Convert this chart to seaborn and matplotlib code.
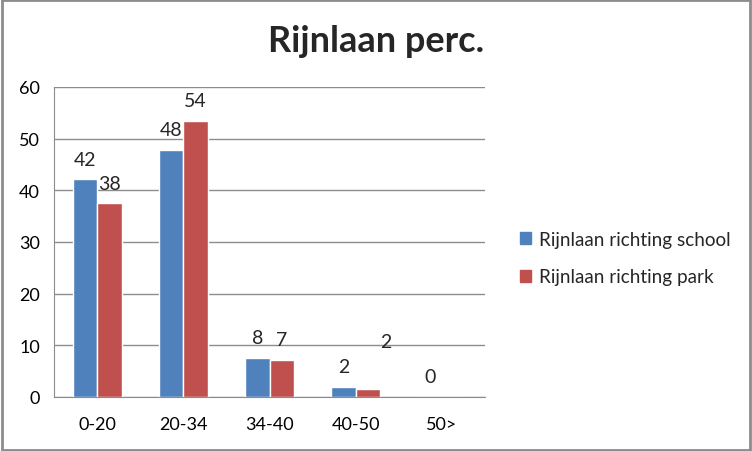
import pandas as pd
import matplotlib.pyplot as plt
import seaborn as sns

# Data
CATEGORIES = ['0-20', '20-34', '34-40', '40-50', '50>']
SCHOOL = [42.1, 47.9, 7.6, 2.0, 0.0]
PARK = [37.5, 53.5, 7.2, 1.5, 0.0]
SERIES = ['Rijnlaan richting school', 'Rijnlaan richting park']
COLORS = ['#4F81BD', '#C0504D']

df = pd.DataFrame({
    'category': CATEGORIES * 2,
    'value': SCHOOL + PARK,
    'series': [SERIES[0]] * len(CATEGORIES) + [SERIES[1]] * len(CATEGORIES),
})

sns.set_style('white')
plt.rcParams['font.family'] = ['Lato', 'DejaVu Sans']

fig = plt.figure(figsize=(7.52, 4.52), dpi=100)
ax = fig.add_axes([54 / 752, 54 / 452, 431 / 752, 310 / 452])

sns.barplot(data=df, x='category', y='value', hue='series', palette=COLORS,
            width=0.57, saturation=1, ax=ax, legend=True)

ax.set_ylim(0, 60)
ax.set_yticks(range(0, 61, 10))
ax.set_xlabel('')
ax.set_ylabel('')
ax.yaxis.grid(True, color='#8c8c8c', linewidth=1)
ax.set_axisbelow(True)
for side in ['top', 'right']:
    ax.spines[side].set_visible(False)
for side in ['left', 'bottom']:
    ax.spines[side].set_color('#8c8c8c')
ax.tick_params(axis='both', length=0, labelsize=13, colors='black')
ax.tick_params(axis='x', pad=14)
ax.tick_params(axis='y', pad=10)

# Data labels (Excel style, manually offset)
for ci, container in enumerate(ax.containers):
    for i, bar in enumerate(container):
        vals = SCHOOL if ci == 0 else PARK
        if ci == 1 and vals[i] == 0:
            continue
        dx, dy = 0, 20
        if ci == 1 and CATEGORIES[i] == '40-50':
            dx, dy = 18, 48
        ax.annotate(f'{round(vals[i])}',
                    (bar.get_x() + bar.get_width() / 2, bar.get_height()),
                    xytext=(dx * 0.72, dy * 0.72), textcoords='offset points',
                    ha='center', va='center', fontsize=14)

ax.get_legend().remove()
handles = [plt.Rectangle((0, 0), 1, 1, color=c) for c in COLORS]
fig.legend(handles, SERIES, loc='center left', bbox_to_anchor=(503 / 752, 1 - 259 / 452),
           frameon=False, fontsize=13.6, handlelength=0.6, handleheight=0.6,
           handletextpad=0.4, labelspacing=1.1)

fig.text(376 / 752, 1 - 42 / 452, 'Rijnlaan perc.', ha='center', va='center',
         fontsize=26, fontweight='bold')

# Outer chart border
fig.patches.append(plt.Rectangle((0.002, 0.003), 0.995, 0.994, transform=fig.transFigure,
                                 fill=False, edgecolor='#8c8c8c', linewidth=2))

fig.savefig('out.png', dpi=100)
